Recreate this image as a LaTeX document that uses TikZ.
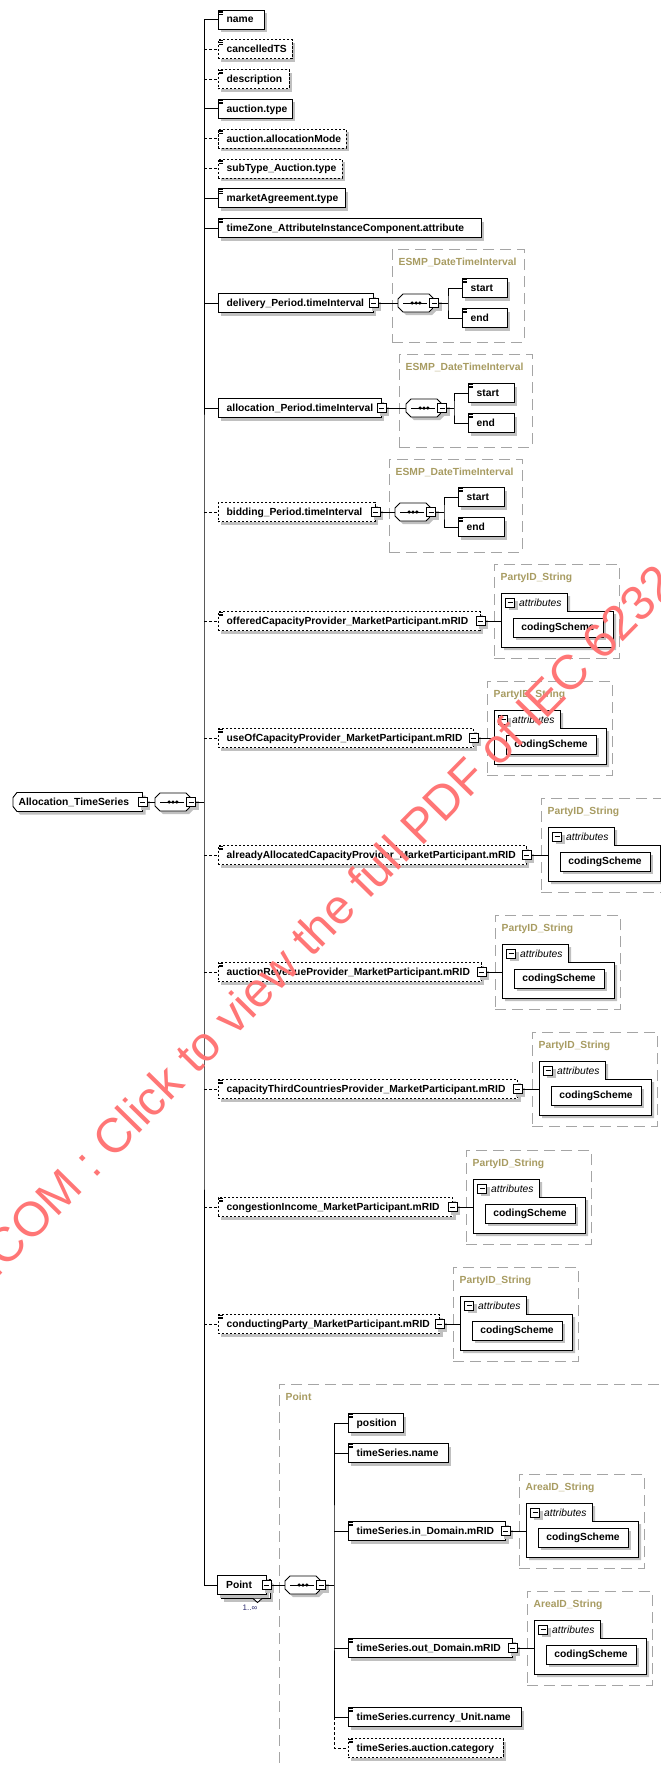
\documentclass[tikz,border=0pt]{standalone}
\usepackage{fontspec}
\setmainfont{Liberation Sans}
\usetikzlibrary{shadows}

\definecolor{typetitle}{RGB}{168,156,98}
\definecolor{framegray}{RGB}{165,165,165}
\definecolor{shadowgray}{RGB}{192,192,192}
\definecolor{occurblue}{RGB}{45,45,110}
\definecolor{wmred}{RGB}{255,118,118}

\newcommand\lbl{\bfseries\fontsize{10.3}{12}\selectfont}

\tikzset{
  conn/.style={line width=0.9pt, draw=black},
  optconn/.style={conn, dash pattern=on 3pt off 2pt},
  drop3/.style={general shadow={fill=shadowgray, shadow xshift=3pt, shadow yshift=-3pt}},
  elbox/.style={draw=black, line width=0.9pt, fill=white, drop3, minimum height=19pt, inner sep=0pt, font=\lbl},
  optional/.style={dash pattern=on 2.4pt off 1.6pt},
  eltext/.style={font=\lbl, anchor=base west, inner sep=0pt},
  minusbox/.style={draw=black, line width=0.9pt, fill=white, drop3, minimum size=9pt, inner sep=0pt,
    path picture={\draw[line width=0.9pt] ([xshift=2pt]path picture bounding box.west) -- ([xshift=-2pt]path picture bounding box.east);}},
  iconline/.style={line width=0.6pt, draw=black},
  typeframe/.style={draw=framegray, line width=0.9pt, dash pattern=on 11pt off 6pt, inner sep=0pt},
  typetitle/.style={font=\lbl, text=typetitle, anchor=base west, inner sep=0pt},
  attrframe/.style={draw=black, line width=0.9pt, fill=white, drop3},
  attrtext/.style={font=\itshape\fontsize{10.3}{12}\selectfont, anchor=base west, inner sep=0pt},
  seqshape/.style={draw=black, line width=0.9pt, fill=white, drop3},
  anchorbox/.style={inner sep=0pt, minimum width=36pt, minimum height=18pt},
  watermark/.style={font=\fontsize{48.5}{50}\selectfont, text=wmred, anchor=base west, inner sep=0pt},
}

% element box: name, extra style, left, right, centre y, label
\newcommand\elem[6]{%
  \node[elbox,#2,minimum width={#4-(#3)}] (#1) at ({((#3)+(#4))/2},#5) {};
  \node[eltext] (#1-t) at ({#3+8.5},{#5+3.4}) {#6};}
% simple-content marker in the upper left corner
\newcommand\icon[1]{%
  \draw[iconline] ([xshift=1.6pt,yshift=-1.3pt]#1.north west) -- ++(3.6,0) ++(-3.6,1.6) -- ++(3.6,0) ++(-3.6,1.6) -- ++(3.6,0);}
% collapse box on the right edge
\newcommand\minus[1]{\node[minusbox] (#1-m) at (#1.east) {};}
% sequence compositor: name, left, centre y
\newcommand\seqc[3]{%
  \node[anchorbox] (#1) at ({#2+18},#3) {};
  \draw[seqshape] (#2,#3-4) -- (#2+5,#3-9) -- (#2+31,#3-9) -- (#2+36,#3-4) -- (#2+36,#3+4) -- (#2+31,#3+9) -- (#2+5,#3+9) -- (#2,#3+4) -- cycle;
  \draw[conn] (#2+5,#3) -- (#2+29,#3);
  \fill (#2+14.2,#3) circle (1.75) (#2+18,#3) circle (1.75) (#2+21.8,#3) circle (1.75);
  \node[minusbox] (#1-m) at ({#2+36},#3) {};}
% complex type frame: name, left, top, right, bottom, title
\newcommand\ctype[6]{%
  \node[typeframe, minimum width={#4-(#2)}, minimum height={#5-(#3)}] (#1) at ({((#2)+(#4))/2},{((#3)+(#5))/2}) {};
  \node[typetitle] (#1-t) at ({#2+6.5},{#3+16.4}) {#6};}
% attribute group with codingScheme: prefix, frame left, centre y
\newcommand\attrs[3]{%
  \draw[attrframe] ({#2+7},{#3-28}) -- ({#2+73},{#3-28}) -- ({#2+73},{#3-10}) -- ({#2+119},{#3-10}) -- ({#2+119},{#3+26}) -- ({#2+7},{#3+26}) -- cycle;
  \coordinate (#1-in) at ({#2+7},#3);
  \node[minusbox] (#1-am) at ({#2+16},{#3-18.5}) {};
  \node[attrtext] (#1-at) at ({#2+25},{#3-14.9}) {attributes};
  \node[elbox, minimum width=90pt] (#1-cs) at ({#2+64},{#3+6.5}) {codingScheme};}

\begin{document}
\begin{tikzpicture}[x=1pt,y=-1pt]
\useasboundingbox (0,0) rectangle (661,1767);
\fill[white] (0,0) rectangle (661,1767);
\clip (0,0) rectangle (661,1767);

% ---- type frames ----
\ctype{dtype}{392}{249}{524}{342}{ESMP\_DateTimeInterval}
\ctype{atype2}{399}{354}{532}{447}{ESMP\_DateTimeInterval}
\ctype{btype}{389}{459}{522}{552}{ESMP\_DateTimeInterval}
\ctype{offT}{494}{564}{619}{658}{PartyID\_String}
\ctype{useT}{487}{681}{612}{775}{PartyID\_String}
\ctype{alrT}{541}{798}{666}{892}{PartyID\_String}
\ctype{revT}{495}{915}{620}{1009}{PartyID\_String}
\ctype{thrT}{532}{1032}{657}{1126}{PartyID\_String}
\ctype{conT}{466}{1150}{591}{1244}{PartyID\_String}
\ctype{cndT}{453}{1267}{578}{1361}{PartyID\_String}
\ctype{ptT}{279}{1384}{720}{1800}{Point}
\ctype{inT}{519}{1474}{644}{1568}{AreaID\_String}
\ctype{outT}{527}{1591}{652}{1685}{AreaID\_String}

% ---- root element ----
\node[inner sep=0pt, minimum width=129.5pt, minimum height=19pt] (root) at (77.75,802) {};
\draw[seqshape] (13,797.5) -- (17,792.5) -- (142.5,792.5) -- (142.5,811.5) -- (17,811.5) -- (13,806.5) -- cycle;
\node[eltext] (root-t) at (18.5,805.4) {Allocation\_TimeSeries};
\node[minusbox] (root-m) at (root.east) {};
\seqc{seq0}{155}{802}
\coordinate (bus) at (204,802);

% ---- simple children ----
\elem{name}{}{218}{264}{19.5}{name}\icon{name}
\elem{cancelled}{optional}{218}{292}{49.3}{cancelledTS}\icon{cancelled}
\elem{descr}{optional}{218}{289}{79.1}{description}\icon{descr}
\elem{atype}{}{218}{292}{108.9}{auction.type}\icon{atype}
\elem{amode}{optional}{218}{346}{138.7}{auction.allocationMode}\icon{amode}
\elem{subtype}{optional}{218}{342}{168.5}{subType\_Auction.type}\icon{subtype}
\elem{magree}{}{218}{345}{198.3}{marketAgreement.type}\icon{magree}
\elem{tzone}{}{218}{481}{228.1}{timeZone\_AttributeInstanceComponent.attribute}\icon{tzone}

% ---- periods ----
\elem{deliv}{}{218}{373}{303}{delivery\_Period.timeInterval}\minus{deliv}
\seqc{dseq}{398}{303}
\coordinate (dbr) at (448,303);
\elem{dstart}{}{462}{507}{288}{start}\icon{dstart}
\elem{dend}{}{462}{507}{318}{end}\icon{dend}

\elem{alloc}{}{218}{381}{408}{allocation\_Period.timeInterval}\minus{alloc}
\seqc{aseq}{406}{408}
\coordinate (abr) at (454,408);
\elem{astart}{}{468}{514}{393}{start}\icon{astart}
\elem{aend}{}{468}{514}{423}{end}\icon{aend}

\elem{bid}{optional}{218}{375}{512}{bidding\_Period.timeInterval}\minus{bid}
\seqc{bseq}{395}{512}
\coordinate (bbr) at (444,512);
\elem{bstart}{}{458}{504}{497}{start}\icon{bstart}
\elem{bend}{}{458}{504}{527}{end}\icon{bend}

% ---- market participants ----
\elem{off}{optional}{218}{480}{621}{offeredCapacityProvider\_MarketParticipant.mRID}\icon{off}\minus{off}
\attrs{offA}{494}{621}
\elem{use}{optional}{218}{473.5}{738}{useOfCapacityProvider\_MarketParticipant.mRID}\icon{use}\minus{use}
\attrs{useA}{487}{738}
\elem{alr}{optional}{218}{526}{855}{alreadyAllocatedCapacityProvider\_MarketParticipant.mRID}\icon{alr}\minus{alr}
\attrs{alrA}{541}{855}
\elem{rev}{optional}{218}{481}{972}{auctionRevenueProvider\_MarketParticipant.mRID}\icon{rev}\minus{rev}
\attrs{revA}{495}{972}
\elem{thr}{optional}{218}{517.5}{1089}{capacityThirdCountriesProvider\_MarketParticipant.mRID}\icon{thr}\minus{thr}
\attrs{thrA}{532}{1089}
\elem{con}{optional}{218}{452.5}{1207}{congestionIncome\_MarketParticipant.mRID}\icon{con}\minus{con}
\attrs{conA}{466}{1207}
\elem{cnd}{optional}{218}{439.5}{1324}{conductingParty\_MarketParticipant.mRID}\icon{cnd}\minus{cnd}
\attrs{cndA}{453}{1324}

% ---- Point (1..unbounded) ----
\node[elbox, minimum width=49pt] (ptback) at (245.5,1589) {};
\node[elbox, minimum width=49pt] (pt) at (241.5,1585) {};
\node[eltext] (pt-t) at (226,1588.4) {Point};
\minus{pt}
\draw[line width=0.9pt, fill=white] (253,1598.5) -- (257.5,1602.5) -- (262,1598.5);
\node[font=\fontsize{8}{9}\selectfont, text=occurblue, inner sep=0pt] (pt-occ) at (250,1608) {1..∞};
\seqc{pseq}{285}{1585}
\coordinate (pbr) at (334,1585);
\elem{p1}{}{348}{403}{1423}{position}\icon{p1}
\elem{p2}{}{348}{448}{1453}{timeSeries.name}\icon{p2}
\elem{p3}{}{348}{505.5}{1531}{timeSeries.in\_Domain.mRID}\icon{p3}\minus{p3}
\attrs{inA}{519}{1531}
\elem{p4}{}{348}{512.5}{1648}{timeSeries.out\_Domain.mRID}\icon{p4}\minus{p4}
\attrs{outA}{527}{1648}
\elem{p5}{}{348}{521}{1717}{timeSeries.currency\_Unit.name}\icon{p5}
\elem{p6}{optional}{348}{503}{1748}{timeSeries.auction.category}\icon{p6}

% ---- connectors ----
\draw[conn] (root-m.east) -- (seq0.west);
\draw[conn] (seq0-m.east) -- (bus);
\draw[conn] (name.west) -| (bus) |- (pt.west);
\foreach \n in {atype,magree,tzone,deliv,alloc}
  \draw[conn] (\n.west -| bus) -- (\n.west);
\foreach \n in {cancelled,descr,amode,subtype,bid,off,use,alr,rev,thr,con,cnd}
  \draw[optconn] (\n.west -| bus) -- (\n.west);

\draw[conn] (deliv-m.east) -- (dseq.west);
\draw[conn] (dseq-m.east) -- (dbr);
\draw[conn] (dstart.west) -| (dbr) |- (dend.west);
\draw[conn] (alloc-m.east) -- (aseq.west);
\draw[conn] (aseq-m.east) -- (abr);
\draw[conn] (astart.west) -| (abr) |- (aend.west);
\draw[conn] (bid-m.east) -- (bseq.west);
\draw[conn] (bseq-m.east) -- (bbr);
\draw[conn] (bstart.west) -| (bbr) |- (bend.west);

\draw[conn] (off-m.east) -- (offA-in);
\draw[conn] (use-m.east) -- (useA-in);
\draw[conn] (alr-m.east) -- (alrA-in);
\draw[conn] (rev-m.east) -- (revA-in);
\draw[conn] (thr-m.east) -- (thrA-in);
\draw[conn] (con-m.east) -- (conA-in);
\draw[conn] (cnd-m.east) -- (cndA-in);

\draw[conn] (pt-m.east) -- (pseq.west);
\draw[conn] (pseq-m.east) -- (pbr);
\draw[conn] (p1.west) -| (pbr) |- (p5.west);
\foreach \n in {p2,p3,p4}
  \draw[conn] (\n.west -| pbr) -- (\n.west);
\draw[optconn] (p5.west -| pbr) |- (p6.west);
\draw[conn] (p3-m.east) -- (inA-in);
\draw[conn] (p4-m.east) -- (outA-in);

% ---- overprint ----
\node[watermark, rotate=45.5] (wm) at (-4,1279.7) {.COM : Click to view the full PDF of IEC 6232};
\end{tikzpicture}
\end{document}
